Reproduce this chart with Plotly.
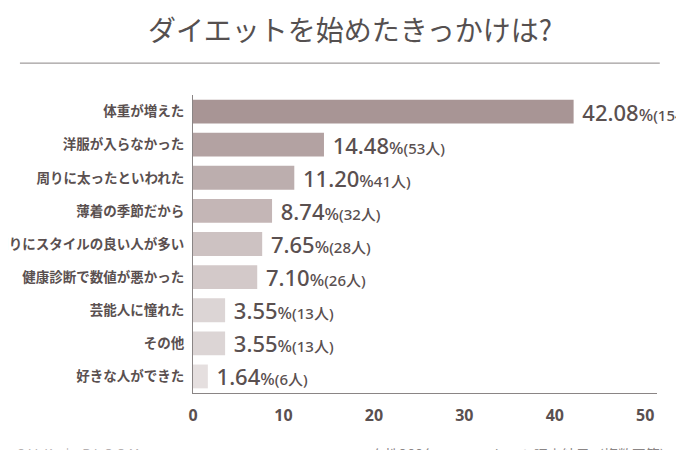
import plotly.graph_objects as go

# data (top row first)
reasons = ['体重が増えた', '洋服が入らなかった', '周りに太ったといわれた', '薄着の季節だから',
           '周りにスタイルの良い人が多い', '健康診断で数値が悪かった', '芸能人に憧れた', 'その他',
           '好きな人ができた']
percents = [42.08, 14.48, 11.20, 8.74, 7.65, 7.10, 3.55, 3.55, 1.64]
people = ['(154人)', '(53人)', '41人)', '(32人)', '(28人)', '(26人)', '(13人)', '(13人)', '(6人)']
bar_colors = ['#a89595', '#b3a2a2', '#bcaeae', '#c4b6b6', '#cdc2c2',
              '#d3c9c9', '#dcd5d5', '#dcd5d5', '#e5dfdf']
x_ticks = [0, 10, 20, 30, 40, 50]

TEXT = '#5a5050'
FONT = 'Noto Sans CJK JP'

labels = ['\u00a0' + f'{p:.2f}<span style="font-size:17px">%</span>'
          f'<span style="font-size:15px">{n}</span>'
          for p, n in zip(percents, people)]

fig = go.Figure()
fig.add_trace(go.Bar(
    x=percents, y=reasons, orientation='h',
    marker=dict(color=bar_colors, line=dict(width=0)),
    text=labels, textposition='outside', cliponaxis=False, constraintext='none',
    textfont=dict(family='Noto Sans, ' + FONT, size=22, color=TEXT, weight=500),
    hoverinfo='skip',
))

# the page has an 8px body margin, so margins are trimmed by 8px to line up
fig.update_layout(
    width=684, height=450,
    margin=dict(l=185, r=35, t=87, b=65),
    paper_bgcolor='white', plot_bgcolor='white',
    showlegend=False, bargap=0.28,
    font=dict(family=FONT, color=TEXT),
    title=dict(text='ダイエットを始めたきっかけは?', x=0.5, xanchor='center',
               y=0.949, yanchor='middle', yref='container',
               font=dict(family=FONT, size=28, color='#555050')),
)
fig.update_yaxes(autorange='reversed', showgrid=False, ticks='', ticksuffix=' ',
                 automargin=False, ticklabelstandoff=2,
                 showline=True, linecolor='#8a8585', linewidth=1,
                 tickfont=dict(family=FONT, size=13.5, color=TEXT, weight='bold'))
fig.update_xaxes(range=[0, 51.3], tickvals=x_ticks, showgrid=False, zeroline=False,
                 automargin=False,
                 showline=True, linecolor='#8a8585', linewidth=1, ticks='outside',
                 ticklen=8, tickcolor='white',
                 tickfont=dict(family='Noto Sans, ' + FONT, size=16, color=TEXT, weight='bold'))

# rule under the title
fig.add_shape(type='line', xref='paper', yref='paper',
              x0=-0.373, x1=1.006, y0=1.107, y1=1.107,
              line=dict(color='#8a8585', width=1))

# footer (cut off at the bottom edge in the reference)
fig.add_annotation(text='S I L K　|　B L O O M', xref='paper', yref='paper',
                   x=-0.384, y=-0.165, xanchor='left', yanchor='top', showarrow=False,
                   font=dict(family=FONT, size=13, color='#b5b0b0'))
fig.add_annotation(text='※女性366名へのアンケート調査結果（複数回答）', xref='paper', yref='paper',
                   x=0.349, y=-0.165, xanchor='left', yanchor='top', showarrow=False,
                   font=dict(family=FONT, size=14, color='#8a8585'))

fig.write_html('out.html')
